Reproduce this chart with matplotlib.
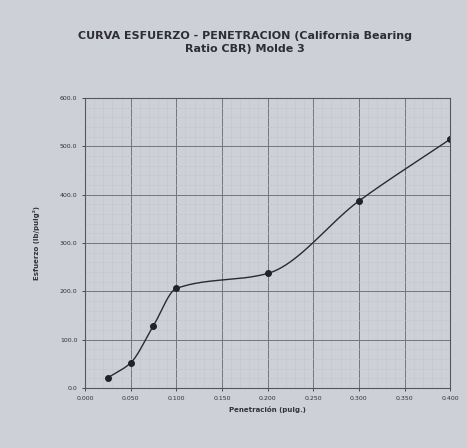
import matplotlib.pyplot as plt
import numpy as np
from matplotlib.ticker import MultipleLocator

# penetration (in) and stress readings, molde 3
penetracion = np.array([0.025, 0.050, 0.075, 0.100, 0.200, 0.300, 0.400])
esfuerzo = np.array([21, 52, 129, 206, 237, 387, 515])

x_ticks = [0.0, 0.05, 0.1, 0.15, 0.2, 0.25, 0.3, 0.35, 0.4]
y_ticks = [0, 100, 200, 300, 400, 500, 600]


def smooth_curve(x, y, n=40):
    # monotone cubic hermite (Fritsch-Carlson) through the readings
    d = np.diff(y) / np.diff(x)
    m = np.zeros_like(y, dtype=float)
    m[0], m[-1] = d[0], d[-1]
    for i in range(1, len(x) - 1):
        if d[i - 1] * d[i] > 0:
            w1 = 2 * (x[i + 1] - x[i]) + (x[i] - x[i - 1])
            w2 = (x[i + 1] - x[i]) + 2 * (x[i] - x[i - 1])
            m[i] = (w1 + w2) / (w1 / d[i - 1] + w2 / d[i])
    xs, ys = [], []
    for i in range(len(x) - 1):
        h = x[i + 1] - x[i]
        t = np.linspace(0, 1, n)
        h00 = 2 * t**3 - 3 * t**2 + 1
        h10 = t**3 - 2 * t**2 + t
        h01 = -2 * t**3 + 3 * t**2
        h11 = t**3 - t**2
        xs.append(x[i] + t * h)
        ys.append(h00 * y[i] + h10 * h * m[i] + h01 * y[i + 1] + h11 * h * m[i + 1])
    return np.concatenate(xs), np.concatenate(ys)


bg = '#cdd0d6'
fig = plt.figure(figsize=(4.67, 4.48), dpi=100, facecolor=bg)
ax = fig.add_axes([0.182, 0.134, 0.782, 0.647], facecolor=bg)

sx, sy = smooth_curve(penetracion, esfuerzo)
ax.plot(sx, sy, color='#2a2a30', lw=1.0)
ax.plot(penetracion, esfuerzo, 'o', color='#222228', ms=4)

ax.set_xlim(0, 0.4)
ax.set_ylim(0, 600)
ax.set_xticks(x_ticks)
ax.set_xticklabels(['%.3f' % v for v in x_ticks])
ax.set_yticks(y_ticks)
ax.set_yticklabels(['%.1f' % v for v in y_ticks])
ax.xaxis.set_minor_locator(MultipleLocator(0.01))
ax.yaxis.set_minor_locator(MultipleLocator(20))
ax.grid(which='major', color='#74767e', lw=0.7)
ax.grid(which='minor', color='#c3c6cc', lw=0.4)
ax.tick_params(labelsize=4.5, colors='#333338', length=2, width=0.6)
ax.tick_params(which='minor', length=0)
for s in ax.spines.values():
    s.set_color('#55575e')
    s.set_linewidth(0.8)

ax.set_xlabel('Penetración (pulg.)', fontsize=5, fontweight='bold', color='#333338')
ax.set_ylabel('Esfuerzo (lb/pulg²)', fontsize=5, fontweight='bold', color='#333338', labelpad=14)

fig.text(0.525, 0.905, 'CURVA ESFUERZO - PENETRACION (California Bearing\nRatio CBR) Molde 3',
         ha='center', va='center', fontsize=8, fontweight='bold', color='#2e2e34', linespacing=1.4)

plt.savefig('out.png', dpi=100, facecolor=bg)
